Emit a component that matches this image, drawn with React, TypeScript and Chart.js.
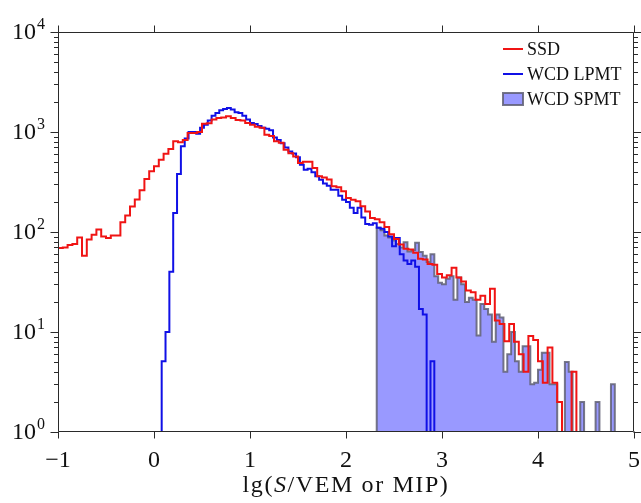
import React, { useEffect, useRef } from 'react';
import { Chart, registerables } from 'chart.js';

Chart.register(...registerables);

// ---------------- data ----------------
const X_MIN = -1;
const X_MAX = 5;
const Y_MIN = 1;
const Y_MAX = 10000;
const SSD_BIN = 0.05;
const WCD_BIN = 0.04;

const xTickValues = [-1, 0, 1, 2, 3, 4, 5];
const xTickLabels = ['\u22121', '0', '1', '2', '3', '4', '5'];
const yTickExponents = [0, 1, 2, 3, 4];
const seriesNames = ['SSD', 'WCD LPMT', 'WCD SPMT'];
const axisTitleParts = ['lg(', 'S', '/VEM or MIP)'];

// SSD histogram, bins of 0.05 starting at -1
const ssdCounts: (number | null)[] = [
  69, 70, 74, 76, 88, 58, 84, 94, 106, 90,
  87, 92, 92, 125, 146, 180, 211, 261, 339, 404,
  454, 529, 607, 676, 807, 790, 830, 977, 980, 1000,
  1210, 1220, 1330, 1380, 1400, 1435, 1380, 1320, 1300, 1230,
  1180, 1130, 1100, 940, 910, 806, 780, 666, 613, 570,
  490, 505, 505, 436, 360, 350, 335, 286, 280, 255,
  219, 210, 203, 181, 160, 138, 134, 125, 112, 95,
  85, 75, 68, 67, 62, 54, 53, 48, 47, 38,
  35, 37, 44, 35, 32, 26, 25, 21, 23, 19,
  27, 13, 12, 8.1, 12, 8, 6, 4, 9.1, 8.3,
  5.1, 3.1, 7, 3.1, 2, 0, 0, 4, 0, null,
  null, null, null, null, null, null, null, null, null, null,
];

// WCD LPMT histogram, bins of 0.04 starting at -1
const lpmtCounts: (number | null)[] = [
  null, null, null, null, null, null, null, null, null, null,
  null, null, null, null, null, null, null, null, null, null,
  null, null, null, null, null, null, 0, 5.1, 10, 40,
  155, 380, 720, 860, 1000, 1000, 960, 1100, 1180, 1300,
  1450, 1550, 1650, 1700, 1740, 1680, 1580, 1550, 1450, 1330,
  1230, 1200, 1150, 1100, 1080, 1040, 880, 830, 770, 700,
  640, 610, 560, 470, 420, 430, 395, 360, 333, 305,
  290, 265, 265, 231, 210, 200, 175, 155, 175, 140,
  120, 118, 122, 110, 108, 100, 90, 72, 87, 60,
  52, 48, 52, 45, 17, 15, 0, 5.1, 0, null,
  null, null, null, null, null, null, null, null, null, null,
  null, null, null, null, null, null, null, null, null, null,
  null, null, null, null, null, null, null, null, null, null,
  null, null, null, null, null, null, null, null, null, null,
  null, null, null, null, null, null, null, null, null, null,
];

// WCD SPMT histogram, bins of 0.04 starting at -1
const spmtCounts: (number | null)[] = [
  null, null, null, null, null, null, null, null, null, null,
  null, null, null, null, null, null, null, null, null, null,
  null, null, null, null, null, null, null, null, null, null,
  null, null, null, null, null, null, null, null, null, null,
  null, null, null, null, null, null, null, null, null, null,
  null, null, null, null, null, null, null, null, null, null,
  null, null, null, null, null, null, null, null, null, null,
  null, null, null, null, null, null, null, null, null, null,
  null, null, 0, 110, 104, 92, 88, 82, 76, 70,
  79, 64, 66, 78, 63, 58, 50, 60, 36, 31,
  30, 34, 36, 21, 35, 30, 20, 22, 21, 9.2,
  19, 17, 15, 8, 15, 14, 4, 6, 10, 5.1,
  4, 7.2, 7.2, 3, 3.1, 4.2, 6.2, 6.2, 3, 3,
  0, 0, 5, 4, 0, 0, 2, 0, 0, 0,
  2, 0, 0, 0, 3, 0, null, null, null, null,
];

// ---------------- helpers ----------------
const ZERO = 1e-3; // empty bin: below the axis, clipped like matplotlib

function toSteps(counts: (number | null)[], bw: number) {
  return counts.map((c, i) => ({
    x: X_MIN + i * bw,
    y: c === null ? null : c === 0 ? ZERO : c,
  }));
}

const RED = '#f01414';
const BLUE = '#1010e6';
const SPMT_FILL = 'rgba(0,0,255,0.4)';
const SPMT_EDGE = 'rgba(95,95,115,0.85)';
const AXIS = '#2a2a2a';
const FONT = '"Liberation Serif", "Times New Roman", serif';

const decorPlugin = {
  id: 'decor',
  afterDraw(chart: any) {
    const { ctx, chartArea: a, scales } = chart;
    const xs = scales.x;
    const ys = scales.y;
    ctx.save();
    ctx.strokeStyle = AXIS;
    ctx.fillStyle = '#111';
    ctx.lineWidth = 1;

    const L = Math.round(a.left) + 0.5;
    const R = Math.round(a.right) - 0.5;
    const T = Math.round(a.top) + 0.5;
    const B = Math.round(a.bottom) - 0.5;
    ctx.beginPath();
    ctx.rect(L, T, R - L, B - T);
    ctx.stroke();

    const seg = (x1: number, y1: number, x2: number, y2: number) => {
      ctx.beginPath();
      ctx.moveTo(x1, y1);
      ctx.lineTo(x2, y2);
      ctx.stroke();
    };

    // x ticks (bottom and top), outward
    xTickValues.forEach((v) => {
      const px = Math.round(xs.getPixelForValue(v)) + 0.5;
      seg(px, B, px, B + 7);
      seg(px, T, px, T - 7);
    });

    // y ticks, major + minor, left and right, outward
    for (let e = 0; e < 4; e++) {
      for (let m = 1; m <= 9; m++) {
        const py = Math.round(ys.getPixelForValue(m * Math.pow(10, e))) + 0.5;
        const len = m === 1 ? 8 : 4.5;
        seg(L - len, py, L, py);
        seg(R, py, R + len, py);
      }
    }
    {
      const py = Math.round(ys.getPixelForValue(Y_MAX)) + 0.5;
      seg(L - 8, py, L, py);
      seg(R, py, R + 8, py);
    }

    // x tick labels
    ctx.font = `24px ${FONT}`;
    ctx.textAlign = 'center';
    ctx.textBaseline = 'alphabetic';
    xTickValues.forEach((v, i) => {
      const px = xs.getPixelForValue(v);
      ctx.fillText(xTickLabels[i], px, 467);
    });

    // y tick labels 10^n
    yTickExponents.forEach((e) => {
      const py = ys.getPixelForValue(Math.pow(10, e));
      ctx.font = `24px ${FONT}`;
      ctx.textAlign = 'right';
      ctx.fillText('10', 36, py + 7);
      ctx.font = `16px ${FONT}`;
      ctx.textAlign = 'left';
      ctx.fillText(String(e), 37, py - 3);
    });

    // axis title
    ctx.textAlign = 'left';
    const fonts = [`24px ${FONT}`, `italic 24px ${FONT}`, `24px ${FONT}`];
    const spacing = 1.6;
    let total = 0;
    const widths = axisTitleParts.map((t, i) => {
      ctx.font = fonts[i];
      const w = ctx.measureText(t).width + spacing * t.length;
      total += w;
      return w;
    });
    let tx = (a.left + a.right) / 2 - total / 2;
    axisTitleParts.forEach((t, i) => {
      ctx.font = fonts[i];
      let cx = tx;
      for (const ch of t) {
        ctx.fillText(ch, cx, 492);
        cx += ctx.measureText(ch).width + spacing;
      }
      tx += widths[i];
    });

    // legend (inside, top right)
    ctx.font = `18px ${FONT}`;
    ctx.textBaseline = 'middle';
    const rows = [49, 74, 99];
    const sx0 = 503;
    const sx1 = 523;
    ctx.lineWidth = 2;
    ctx.strokeStyle = RED;
    seg(sx0, rows[0], sx1, rows[0]);
    ctx.strokeStyle = BLUE;
    seg(sx0, rows[1], sx1, rows[1]);
    ctx.fillStyle = SPMT_FILL;
    ctx.fillRect(sx0, rows[2] - 6, sx1 - sx0, 12);
    ctx.strokeStyle = SPMT_EDGE;
    ctx.strokeRect(sx0, rows[2] - 6, sx1 - sx0, 12);
    ctx.fillStyle = '#111';
    seriesNames.forEach((n, i) => ctx.fillText(n, 527, rows[i] + 1));

    ctx.restore();
  },
};

export default function App() {
  const ref = useRef<HTMLCanvasElement>(null);
  useEffect(() => {
    const chart = new Chart(ref.current as HTMLCanvasElement, {
      type: 'line',
      data: {
        datasets: [
          {
            label: seriesNames[0],
            data: toSteps(ssdCounts, SSD_BIN) as any,
            borderColor: RED,
            borderWidth: 2,
            stepped: 'before',
            pointRadius: 0,
            fill: false,
            borderJoinStyle: 'miter',
          },
          {
            label: seriesNames[1],
            data: toSteps(lpmtCounts, WCD_BIN) as any,
            borderColor: BLUE,
            borderWidth: 2,
            stepped: 'before',
            pointRadius: 0,
            fill: false,
            borderJoinStyle: 'miter',
          },
          {
            label: seriesNames[2],
            data: toSteps(spmtCounts, WCD_BIN) as any,
            borderColor: SPMT_EDGE,
            backgroundColor: SPMT_FILL,
            borderWidth: 2,
            stepped: 'before',
            pointRadius: 0,
            fill: 'start',
            borderJoinStyle: 'miter',
          },
        ],
      },
      options: {
        responsive: false,
        animation: false,
        parsing: true,
        layout: { padding: { left: 58, right: 7, top: 32, bottom: 71 } },
        scales: {
          x: { type: 'linear', min: X_MIN, max: X_MAX, display: false },
          y: { type: 'logarithmic', min: Y_MIN, max: Y_MAX, display: false },
        },
        plugins: {
          legend: { display: false },
          tooltip: { enabled: false },
        },
        events: [],
      },
      plugins: [decorPlugin],
    });
    return () => chart.destroy();
  }, []);
  return (
    <div style={{ position: 'absolute', left: 0, top: 0, width: 641, height: 503, background: '#fff' }}>
      <canvas ref={ref} width={641} height={503} style={{ display: 'block', width: 641, height: 503 }} />
    </div>
  );
}
